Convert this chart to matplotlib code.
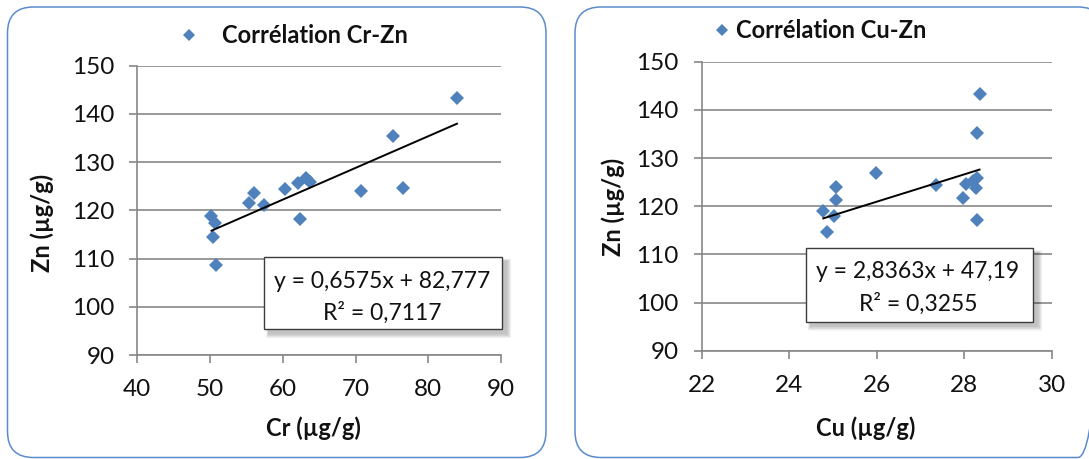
import matplotlib
matplotlib.use("Agg")
import matplotlib.pyplot as plt
import matplotlib.transforms as mtransforms
from matplotlib.patches import FancyBboxPatch, Rectangle
from matplotlib.lines import Line2D

# Cr-Zn samples (µg/g)
cr_values = [83.95, 75.1, 76.5, 70.7, 60.3, 56.0, 55.4, 57.4, 62.4, 62.1,
             63.2, 63.8, 50.2, 50.7, 50.4, 50.8]
zn_vs_cr = [143.2, 135.4, 124.7, 124.1, 124.5, 123.7, 121.6, 121.2, 118.2,
            125.6, 126.8, 125.8, 118.9, 117.3, 114.5, 108.7]

# Cu-Zn samples (µg/g)
cu_values = [28.35, 28.29, 25.98, 27.36, 28.03, 28.19, 28.29, 28.26, 27.97,
             28.29, 25.07, 25.06, 24.78, 25.03, 24.86]
zn_vs_cu = [143.2, 135.3, 126.9, 124.4, 124.7, 125.3, 125.9, 123.7, 121.6,
            117.1, 124.0, 121.2, 118.9, 118.0, 114.6]

# Linear trend coefficients
cr_slope, cr_intercept, cr_r2 = 0.6575, 82.777, 0.7117
cu_slope, cu_intercept, cu_r2 = 2.8363, 47.19, 0.3255

cr_ticks = [40, 50, 60, 70, 80, 90]
cu_ticks = [22, 24, 26, 28, 30]
zn_ticks = [90, 100, 110, 120, 130, 140, 150]

W, H = 1089, 459
FONT = "Lato"
BLUE = "#4f81bd"
GRID = "#878787"
FRAME = "#5b8bcd"
INK = "#111111"
TICK_FS = 17.5
EQ_FS = 16.5
LABEL_FS = 17

plt.rcParams["font.family"] = [FONT, "DejaVu Sans"]

fig = plt.figure(figsize=(W / 100, H / 100), dpi=100)
fig.patch.set_facecolor("white")

# pixel coordinates measured from the top-left corner
px = mtransforms.Affine2D().scale(1 / W, -1 / H).translate(0, 1) + fig.transFigure


def comma(v):
    return format(v, "g").replace(".", ",")


def frame(x0, y0, x1, y1):
    fig.patches.append(FancyBboxPatch((x0, y0), x1 - x0, y1 - y0,
                                      boxstyle="round,pad=0,rounding_size=26",
                                      transform=px, facecolor="none",
                                      edgecolor=FRAME, linewidth=1.1, zorder=0))


def equation_box(x0, y0, x1, y1, slope, intercept, r2, cx, y_line1, y_line2):
    # soft drop shadow, lower right
    for i in range(7):
        grow = 7 - i
        fig.patches.append(Rectangle((x0 + 2 + i * 0.3, y0 + 2 + i * 0.3),
                                     x1 - x0 + grow, y1 - y0 + grow,
                                     transform=px, facecolor="black", alpha=0.035,
                                     edgecolor="none", zorder=5))
    fig.patches.append(Rectangle((x0, y0), x1 - x0, y1 - y0, transform=px,
                                 facecolor="white", edgecolor="#3c3c3c",
                                 linewidth=1.0, zorder=6))
    fig.text(cx, y_line1, f"y = {comma(slope)}x + {comma(intercept)}", transform=px,
             ha="center", va="center", fontsize=EQ_FS, color=INK, zorder=7)
    fig.text(cx, y_line2, f"R² = {comma(r2)}", transform=px,
             ha="center", va="center", fontsize=EQ_FS, color=INK, zorder=7)


def panel(rect, x, y, slope, intercept, xticks, xlim):
    ax = fig.add_axes(rect)
    ax.set_xlim(*xlim)
    ax.set_ylim(90, 150)
    ax.set_xticks(xticks)
    ax.set_yticks(zn_ticks)
    ax.yaxis.grid(True, color=GRID, linewidth=1.2)
    ax.set_axisbelow(True)
    for s in ("top", "right"):
        ax.spines[s].set_visible(False)
    for s in ("left", "bottom"):
        ax.spines[s].set_color(GRID)
        ax.spines[s].set_linewidth(1.2)
    ax.tick_params(axis="both", direction="out", length=5.5, width=1.2,
                   color=GRID, labelsize=TICK_FS, labelcolor=INK)
    ax.tick_params(axis="y", pad=11)
    ax.tick_params(axis="x", pad=12)
    ax.plot(x, y, linestyle="none", marker="D", markersize=7,
            color=BLUE, markeredgewidth=0, zorder=3, clip_on=False)
    xs = [min(x), max(x)]
    ax.plot(xs, [slope * v + intercept for v in xs], color="black",
            linewidth=1.4, zorder=4)
    return ax


# Left panel: Cr vs Zn
frame(7.5, 7, 546, 457.5)
panel([137.3 / W, 1 - 355 / H, 363.7 / W, 289.3 / H], cr_values, zn_vs_cr,
      cr_slope, cr_intercept, cr_ticks, (40, 90))
fig.lines.append(Line2D([189.3], [35], transform=px, marker="D", markersize=6.5,
                        color=BLUE, markeredgewidth=0, linestyle="none"))
fig.text(221.7, 43.3, "Corrélation Cr-Zn", transform=px, ha="left",
         va="baseline", fontsize=LABEL_FS, fontweight="bold", color=INK)
fig.text(313.8, 436, "Cr (µg/g)", transform=px, ha="center", va="baseline",
         fontsize=LABEL_FS, fontweight="bold", color=INK)
fig.text(50.5, 223.3, "Zn (µg/g)", transform=px, ha="center", va="baseline",
         rotation=90, rotation_mode="anchor", fontsize=LABEL_FS, fontweight="bold",
         color=INK)
equation_box(264.3, 256.7, 502.3, 329.3, cr_slope, cr_intercept, cr_r2,
             382, 281, 312.3)

# Right panel: Cu vs Zn
frame(575, 7, 1104, 457.5)
panel([701.7 / W, 1 - 350.7 / H, 350 / W, 289 / H], cu_values, zn_vs_cu,
      cu_slope, cu_intercept, cu_ticks, (22, 30))
fig.lines.append(Line2D([721.7], [30], transform=px, marker="D", markersize=6.5,
                        color=BLUE, markeredgewidth=0, linestyle="none"))
fig.text(736, 38.3, "Corrélation Cu-Zn", transform=px, ha="left",
         va="baseline", fontsize=LABEL_FS, fontweight="bold", color=INK)
fig.text(866, 436, "Cu (µg/g)", transform=px, ha="center", va="baseline",
         fontsize=LABEL_FS, fontweight="bold", color=INK)
fig.text(621, 206.7, "Zn (µg/g)", transform=px, ha="center", va="baseline",
         rotation=90, rotation_mode="anchor", fontsize=LABEL_FS, fontweight="bold",
         color=INK)
equation_box(806, 248.3, 1033.3, 321.7, cu_slope, cu_intercept, cu_r2,
             918, 271.7, 304)

fig.savefig("out.png", dpi=100, facecolor="white")
